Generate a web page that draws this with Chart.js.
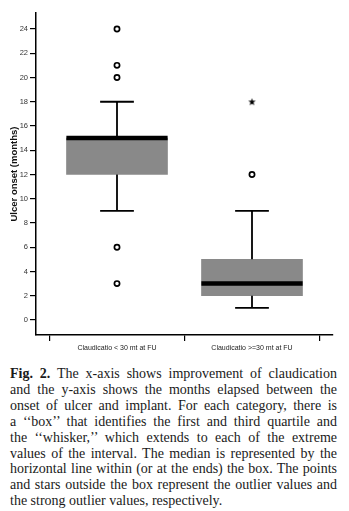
<!DOCTYPE html>
<html>
<head>
<meta charset="utf-8">
<script src="https://cdn.jsdelivr.net/npm/chart.js@4.4.1/dist/chart.umd.min.js"></script>
<style>
  html, body { margin: 0; padding: 0; background: #fff; }
  #wrap { position: absolute; left: 0; top: 0; width: 349px; height: 362px; }
  #caption {
    position: absolute; left: 10px; top: 366px; width: 327px;
    font-family: 'Liberation Serif', serif; font-size: 14px; line-height: 15.9px; color: #1a1a1a;
  }
  #caption div { white-space: nowrap; text-align: justify; text-align-last: justify; }
  #caption div.last { text-align-last: left; }
</style>
</head>
<body>
<div id="wrap"><canvas id="chart"></canvas></div>
<div id="caption">
  <div><b>Fig. 2.</b> The x-axis shows improvement of claudication</div>
  <div>and the y-axis shows the months elapsed between the</div>
  <div>onset of ulcer and implant. For each category, there is</div>
  <div>a ‘‘box’’ that identifies the first and third quartile and</div>
  <div>the ‘‘whisker,’’ which extends to each of the extreme</div>
  <div>values of the interval. The median is represented by the</div>
  <div>horizontal line within (or at the ends) the box. The points</div>
  <div>and stars outside the box represent the outlier values and</div>
  <div class="last">the strong outlier values, respectively.</div>
</div>
<script>
// categories and box-plot statistics (months)
const categories = ['Claudicatio < 30 mt at FU', 'Claudicatio >=30 mt at FU'];
const q1 = [12, 2];
const q3 = [15, 5];
const medians = [15, 3];
const whiskerLow = [9, 1];
const whiskerHigh = [18, 9];
const outliers = [[24, 21, 20, 6, 3], [12]];
const extremes = [[], [18]];
const yTicks = [0, 2, 4, 6, 8, 10, 12, 14, 16, 18, 20, 22, 24];

// small filled star for the strong outliers
function starImage() {
    const c = document.createElement('canvas');
    c.width = 9; c.height = 9;
    const g = c.getContext('2d');
    g.fillStyle = '#000';
    g.beginPath();
    for (let i = 0; i < 10; i++) {
        const r = i % 2 ? 1.6 : 3.9;
        const a = -Math.PI / 2 + i * Math.PI / 5;
        g.lineTo(4.5 + r * Math.cos(a), 4.8 + r * Math.sin(a));
    }
    g.closePath();
    g.fill();
    return c;
}

const boxData = categories.map((c, i) => ({ x: i + 1, y: [q1[i], q3[i]] }));
const outlierData = [];
outliers.forEach((vals, i) => vals.forEach(v => outlierData.push({ x: i + 1, y: v })));
const extremeData = [];
extremes.forEach((vals, i) => vals.forEach(v => extremeData.push({ x: i + 1, y: v })));

// whiskers + median lines, positioned with the chart's scales
const boxExtras = {
    id: 'boxExtras',
    afterDatasetsDraw(chart) {
        const { ctx, scales: { x, y } } = chart;
        ctx.save();
        ctx.strokeStyle = '#000';
        categories.forEach((c, i) => {
            const cx = x.getPixelForValue(i + 1);
            const half = (x.getPixelForValue(1.375) - x.getPixelForValue(1));
            const cap = (x.getPixelForValue(1.125) - x.getPixelForValue(1));
            ctx.lineWidth = 1.8;
            ctx.beginPath();
            ctx.moveTo(cx, y.getPixelForValue(q3[i]));
            ctx.lineTo(cx, y.getPixelForValue(whiskerHigh[i]));
            ctx.moveTo(cx - cap, y.getPixelForValue(whiskerHigh[i]));
            ctx.lineTo(cx + cap, y.getPixelForValue(whiskerHigh[i]));
            ctx.moveTo(cx, y.getPixelForValue(q1[i]));
            ctx.lineTo(cx, y.getPixelForValue(whiskerLow[i]));
            ctx.moveTo(cx - cap, y.getPixelForValue(whiskerLow[i]));
            ctx.lineTo(cx + cap, y.getPixelForValue(whiskerLow[i]));
            ctx.stroke();
            ctx.lineWidth = 4.5;
            ctx.beginPath();
            ctx.moveTo(cx - half, y.getPixelForValue(medians[i]));
            ctx.lineTo(cx + half, y.getPixelForValue(medians[i]));
            ctx.stroke();
        });
        ctx.restore();
    }
};

const tickFont = { family: "'Liberation Sans', Arial, sans-serif", size: 7.5 };

new Chart(document.getElementById('chart'), {
    type: 'bar',
    data: {
        datasets: [
            {
                type: 'scatter',
                data: outlierData,
                pointStyle: 'circle',
                pointRadius: 2.6,
                pointBorderWidth: 1.7,
                pointBackgroundColor: '#fff',
                pointBorderColor: '#000',
                order: 0
            },
            {
                type: 'scatter',
                data: extremeData,
                pointStyle: starImage(),
                order: 0
            },
            {
                type: 'bar',
                data: boxData,
                backgroundColor: '#898989',
                borderWidth: 0,
                barThickness: 101,
                order: 1
            }
        ]
    },
    options: {
        responsive: true,
        maintainAspectRatio: false,
        animation: false,
        layout: { padding: { left: 0, right: 16, top: 13, bottom: 0 } },
        plugins: { legend: { display: false }, tooltip: { enabled: false } },
        scales: {
            x: {
                type: 'linear',
                offset: false,
                min: 0.4,
                max: 2.6,
                afterBuildTicks(scale) { scale.ticks = categories.map((c, i) => ({ value: i + 1 })); },
                afterFit(scale) { scale.height = 27; },
                ticks: {
                    autoSkip: false,
                    maxRotation: 0,
                    padding: 3,
                    color: '#222',
                    font: { family: "'Liberation Sans', Arial, sans-serif", size: 7 },
                    callback: v => categories[v - 1]
                },
                grid: { drawOnChartArea: false, drawTicks: true, tickLength: 6, color: '#000', lineWidth: 1.2 },
                border: { display: true, color: '#000', width: 1.5 }
            },
            y: {
                type: 'linear',
                min: -1.24,
                max: 25.32,
                afterBuildTicks(scale) { scale.ticks = yTicks.map(v => ({ value: v })); },
                afterFit(scale) { scale.width = 36; },
                ticks: { padding: 2, color: '#333', font: tickFont },
                grid: { drawOnChartArea: false, drawTicks: true, tickLength: 6, color: '#000', lineWidth: 1.2 },
                border: { display: true, color: '#000', width: 1.5 },
                title: {
                    display: true,
                    text: 'Ulcer onset (months)',
                    color: '#111',
                    padding: { top: 9, bottom: 0 },
                    font: { family: "'Liberation Sans', Arial, sans-serif", size: 9.5, weight: 'bold' }
                }
            }
        }
    },
    plugins: [boxExtras]
});
</script>
</body>
</html>
